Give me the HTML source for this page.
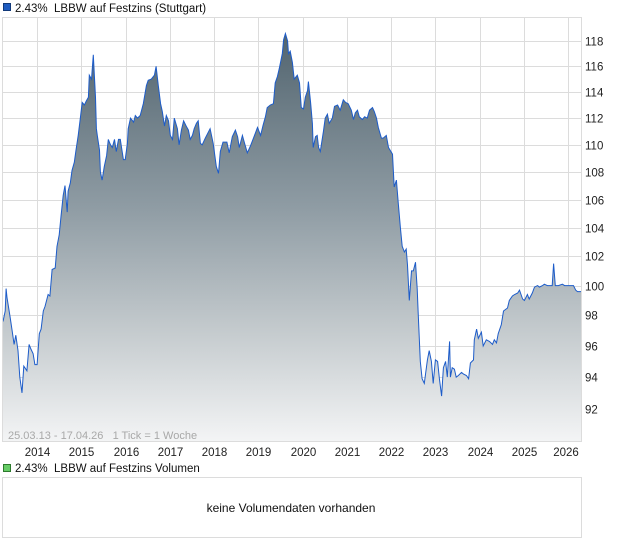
<!DOCTYPE html>
<html><head><meta charset="utf-8"><style>
body{margin:0;background:#fff;width:620px;height:546px;overflow:hidden;font-family:"Liberation Sans",sans-serif}
svg text{font-family:"Liberation Sans",sans-serif;white-space:pre}
</style></head><body>
<svg id="c" width="620" height="546" xmlns="http://www.w3.org/2000/svg" xml:space="preserve">
<defs><linearGradient id="g" gradientUnits="userSpaceOnUse" x1="0" y1="17" x2="0" y2="441">
<stop offset="0" stop-color="#4c5f6a"/><stop offset="0.45" stop-color="#8f9ca4"/><stop offset="0.75" stop-color="#c6cccf"/><stop offset="1" stop-color="#f3f4f5"/></linearGradient></defs>
<g>
<rect x="3.5" y="3.5" width="7" height="7" fill="#1f5cc0" stroke="#123a7a"/>
<text x="15" y="12" font-size="11.5" fill="#111">2.43%  LBBW auf Festzins (Stuttgart)</text></g>
<g id="grid"></g>
<path id="area" fill="url(#g)"/>
<path id="line" fill="none" stroke="#1d5cc9" stroke-width="1"/>
<rect x="2.5" y="17.5" width="579" height="424" fill="none" stroke="#dcdcdc"/>
<g id="yax"></g>
<g id="xax"></g>
<text x="8" y="439" font-size="11" fill="#a8a8a8">25.03.13 - 17.04.26   1 Tick = 1 Woche</text>
<g>
<rect x="3.5" y="464.5" width="7" height="7" fill="#66cc66" stroke="#2d7a2d"/>
<text x="15" y="472" font-size="11.5" fill="#111">2.43%  LBBW auf Festzins Volumen</text></g>
<rect x="2.5" y="477.5" width="579" height="60" fill="#fff" stroke="#dcdcdc"/>
<text x="291" y="512" font-size="12" fill="#111" text-anchor="middle">keine Volumendaten vorhanden</text>
</svg>
<script>
const dates=[2013.23,2013.28,2013.30,2013.32,2013.39,2013.43,2013.48,2013.52,2013.57,2013.61,2013.66,2013.70,2013.77,2013.82,2013.86,2013.91,2013.95,2014.00,2014.05,2014.09,2014.14,2014.18,2014.25,2014.29,2014.34,2014.41,2014.45,2014.50,2014.54,2014.59,2014.63,2014.68,2014.70,2014.75,2014.79,2014.84,2014.88,2014.93,2014.97,2015.02,2015.07,2015.11,2015.16,2015.18,2015.23,2015.27,2015.32,2015.34,2015.36,2015.41,2015.43,2015.47,2015.52,2015.57,2015.61,2015.66,2015.70,2015.75,2015.79,2015.84,2015.88,2015.95,2015.99,2016.04,2016.06,2016.11,2016.18,2016.22,2016.27,2016.33,2016.40,2016.47,2016.51,2016.58,2016.65,2016.69,2016.74,2016.79,2016.83,2016.88,2016.92,2016.97,2017.01,2017.06,2017.10,2017.17,2017.21,2017.26,2017.31,2017.37,2017.42,2017.46,2017.51,2017.55,2017.60,2017.64,2017.69,2017.73,2017.80,2017.91,2017.98,2018.05,2018.10,2018.14,2018.20,2018.29,2018.34,2018.41,2018.48,2018.53,2018.57,2018.64,2018.69,2018.75,2018.82,2018.89,2018.98,2019.05,2019.11,2019.16,2019.20,2019.27,2019.34,2019.38,2019.43,2019.47,2019.54,2019.57,2019.61,2019.66,2019.68,2019.72,2019.77,2019.81,2019.88,2019.93,2019.97,2020.02,2020.06,2020.11,2020.13,2020.18,2020.22,2020.24,2020.29,2020.33,2020.36,2020.40,2020.47,2020.51,2020.56,2020.60,2020.67,2020.72,2020.79,2020.85,2020.92,2020.97,2021.03,2021.10,2021.15,2021.19,2021.24,2021.28,2021.35,2021.40,2021.46,2021.51,2021.58,2021.62,2021.67,2021.71,2021.78,2021.82,2021.89,2021.94,2022.03,2022.07,2022.12,2022.16,2022.21,2022.25,2022.30,2022.34,2022.37,2022.41,2022.46,2022.50,2022.55,2022.59,2022.61,2022.66,2022.70,2022.75,2022.82,2022.86,2022.91,2022.95,2023.00,2023.05,2023.09,2023.14,2023.18,2023.23,2023.27,2023.32,2023.34,2023.38,2023.43,2023.47,2023.52,2023.59,2023.63,2023.70,2023.75,2023.79,2023.86,2023.88,2023.93,2023.97,2024.04,2024.08,2024.15,2024.22,2024.29,2024.33,2024.38,2024.42,2024.49,2024.54,2024.63,2024.67,2024.74,2024.79,2024.86,2024.90,2024.97,2025.01,2025.08,2025.12,2025.19,2025.24,2025.31,2025.35,2025.42,2025.46,2025.53,2025.58,2025.64,2025.67,2025.71,2025.78,2025.87,2025.92,2025.98,2026.05,2026.12,2026.17,2026.21,2026.29];
const values=[97.6,98.3,99.8,99.2,97.9,97.1,96.1,96.7,95.7,94.0,93.0,94.7,94.4,96.1,95.8,95.5,94.8,94.8,96.8,97.1,98.3,98.6,99.4,99.3,101.1,101.2,102.7,103.5,104.8,106.3,107.0,105.1,106.6,107.2,108.1,108.7,109.6,110.7,111.8,113.2,113.0,113.3,113.6,115.3,115.0,116.9,113.6,111.2,110.7,109.6,108.0,107.4,108.4,109.2,110.4,110.0,109.8,110.4,109.5,110.4,110.4,108.9,108.9,110.1,111.2,112.0,111.7,112.2,112.0,112.2,113.1,114.5,114.9,115.0,115.3,116.0,114.5,113.1,112.5,111.4,112.2,111.8,110.7,110.4,112.0,111.2,110.0,111.1,111.8,111.4,111.1,110.4,110.7,111.2,111.6,111.8,110.1,110.0,110.5,111.2,110.1,108.4,107.9,109.5,110.2,110.2,109.4,110.6,111.1,110.6,109.8,110.7,110.1,109.4,109.9,110.5,111.3,110.7,111.5,112.1,112.8,113.0,113.1,114.7,115.2,115.8,117.0,118.1,118.6,118.0,117.0,117.2,116.3,115.0,115.3,114.7,112.8,112.7,113.6,114.1,114.8,113.2,111.6,109.8,110.6,110.7,109.8,109.5,111.0,112.0,112.3,111.6,112.0,112.9,113.0,112.6,113.4,113.2,113.1,112.6,111.9,112.4,112.6,112.1,111.9,112.1,112.0,112.6,112.8,112.5,112.0,111.3,110.5,110.5,110.7,109.8,109.3,106.9,107.4,105.8,104.0,102.7,102.3,102.5,101.4,99.0,101.0,101.0,101.6,99.8,98.3,95.0,93.9,93.6,95.1,95.7,95.0,93.6,95.1,95.0,93.9,92.8,94.6,95.0,94.0,96.3,94.0,94.6,94.5,94.0,94.1,94.3,94.2,94.1,93.9,94.9,95.1,96.4,97.1,96.5,96.9,96.0,96.4,96.3,96.1,96.4,96.2,96.8,97.4,98.3,98.5,99.0,99.3,99.4,99.5,99.7,99.1,99.0,99.4,99.1,99.5,99.9,100.0,99.9,100.0,100.1,100.0,100.0,100.0,101.5,100.0,100.0,100.1,100.0,100.0,100.0,100.0,99.7,99.6,99.6];
const yTicks=[92,94,96,98,100,102,104,106,108,110,112,114,116,118];
const xTicks=[2014,2015,2016,2017,2018,2019,2020,2021,2022,2023,2024,2025,2026];
const X0=3,X1=581,T0=2013.23,T1=2026.29,YB=441,YT=17;
function xs(t){return X0+(t-T0)/(T1-T0)*(X1-X0);}
function ys(v){return 41+1478*Math.log(118/v);}
const NS='http://www.w3.org/2000/svg';
const grid=document.getElementById('grid'),yax=document.getElementById('yax'),xax=document.getElementById('xax');
yTicks.forEach(v=>{const y=Math.round(ys(v))+0.5;
 const l=document.createElementNS(NS,'line');l.setAttribute('x1',X0);l.setAttribute('x2',X1);l.setAttribute('y1',y);l.setAttribute('y2',y);l.setAttribute('stroke','#dcdcdc');
 
 
 grid.appendChild(l);
 const t=document.createElementNS(NS,'text');t.setAttribute('x',585);t.setAttribute('y',y+4);t.setAttribute('font-size','11.5');t.setAttribute('fill','#222');t.textContent=v;
 
 
 yax.appendChild(t);});
xTicks.forEach(yr=>{const x=Math.round(xs(yr))+0.5;
 const l=document.createElementNS(NS,'line');l.setAttribute('x1',x);l.setAttribute('x2',x);l.setAttribute('y1',YT);l.setAttribute('y2',YB);l.setAttribute('stroke','#dcdcdc');
 
 
 grid.appendChild(l);
 const t=document.createElementNS(NS,'text');t.setAttribute('x',Math.min(x,566));t.setAttribute('y',456);t.setAttribute('font-size','11.5');t.setAttribute('fill','#222');t.setAttribute('text-anchor','middle');t.textContent=yr;
 
 
 xax.appendChild(t);});
let d='';dates.forEach((t,i)=>{d+=(i?'L':'M')+xs(t).toFixed(1)+','+ys(values[i]).toFixed(1);});
document.getElementById('line').setAttribute('d',d);
document.getElementById('area').setAttribute('d',d+'L'+xs(dates[dates.length-1]).toFixed(1)+','+YB+'L'+xs(dates[0]).toFixed(1)+','+YB+'Z');
</script>
</body></html>
